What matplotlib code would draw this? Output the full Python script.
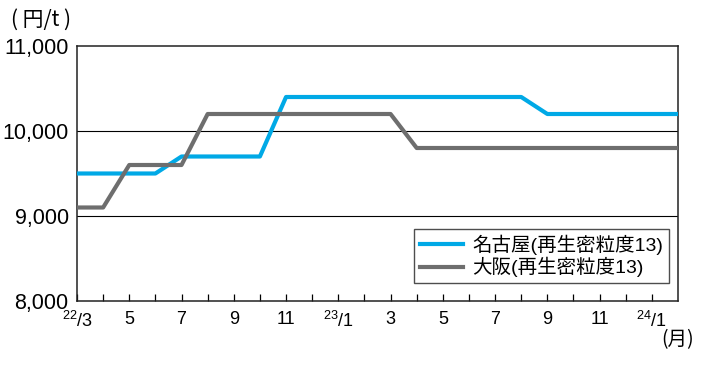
import matplotlib
matplotlib.use("Agg")
import matplotlib.pyplot as plt
from matplotlib.lines import Line2D

plt.rcParams['font.family'] = ['Liberation Sans', 'Noto Sans CJK JP', 'DejaVu Sans']
plt.rcParams['mathtext.fontset'] = 'custom'
plt.rcParams['mathtext.rm'] = 'Liberation Sans'
plt.rcParams['mathtext.it'] = 'Liberation Sans'

# months from 22/3 to 24/2
months = ['22/3', '22/4', '22/5', '22/6', '22/7', '22/8', '22/9', '22/10', '22/11', '22/12',
          '23/1', '23/2', '23/3', '23/4', '23/5', '23/6', '23/7', '23/8', '23/9', '23/10',
          '23/11', '23/12', '24/1', '24/2']
nagoya = [9500, 9500, 9500, 9500, 9700, 9700, 9700, 9700, 10400, 10400,
          10400, 10400, 10400, 10400, 10400, 10400, 10400, 10400, 10200, 10200,
          10200, 10200, 10200, 10200]
osaka = [9100, 9100, 9600, 9600, 9600, 10200, 10200, 10200, 10200, 10200,
         10200, 10200, 10200, 9800, 9800, 9800, 9800, 9800, 9800, 9800,
         9800, 9800, 9800, 9800]
xtick_labels = ['$^{22}$/3', '5', '7', '9', '11', '$^{23}$/1', '3', '5', '7', '9', '11', '$^{24}$/1']
yticks = [8000, 9000, 10000, 11000]
ytick_labels = ['8,000', '9,000', '10,000', '11,000']
series_names = ['名古屋(再生密粒度13)', '大阪(再生密粒度13)']

W, H = 706, 378
fig = plt.figure(figsize=(W / 100, H / 100), dpi=100)
ax = fig.add_axes([77 / W, 1 - 301 / H, (678 - 77) / W, (301 - 46) / H])

x = list(range(len(months)))
ax.plot(x, nagoya, color='#00A9E6', lw=3.0, solid_capstyle='butt', zorder=3)
ax.plot(x, osaka, color='#6E6E6E', lw=3.0, solid_capstyle='butt', zorder=3)

ax.set_xlim(0, len(months) - 1)
ax.set_ylim(8000, 11000)
for yv in [9000, 10000]:
    ax.axhline(yv, color='black', lw=0.8, zorder=1)

for s in ax.spines.values():
    s.set_linewidth(1.1)
    s.set_color('#222222')

ax.set_yticks(yticks)
ax.set_yticklabels(ytick_labels, fontsize=15.5)
ax.tick_params(axis='y', length=0, pad=6)

ax.set_xticks(x[:-1], minor=True)
ax.set_xticks(x[0:-1:2])
ax.set_xticklabels(xtick_labels, fontsize=13)
ax.tick_params(axis='x', which='both', direction='in', length=5, width=0.9, pad=7)

cjk = ['Noto Sans CJK JP', 'DejaVu Sans']
fig.text(41 / W, 1 - 20 / H, '( 円/t )', fontsize=15, ha='center', va='center', family=cjk)
fig.text(678 / W, 1 - 340 / H, '(月)', fontsize=14, ha='center', va='center', family=cjk)

handles = [Line2D([], [], color='#00A9E6', lw=3.0), Line2D([], [], color='#6E6E6E', lw=3.0)]
leg = ax.legend(handles, series_names, loc='lower right', bbox_to_anchor=(0.985, 0.07),
                fontsize=14, frameon=True, fancybox=False, edgecolor='#222222',
                handlelength=2.2, handletextpad=0.5, borderpad=0.3, labelspacing=0.1,
                borderaxespad=0)
leg.get_frame().set_linewidth(1.0)

fig.savefig('out.png', dpi=100)
